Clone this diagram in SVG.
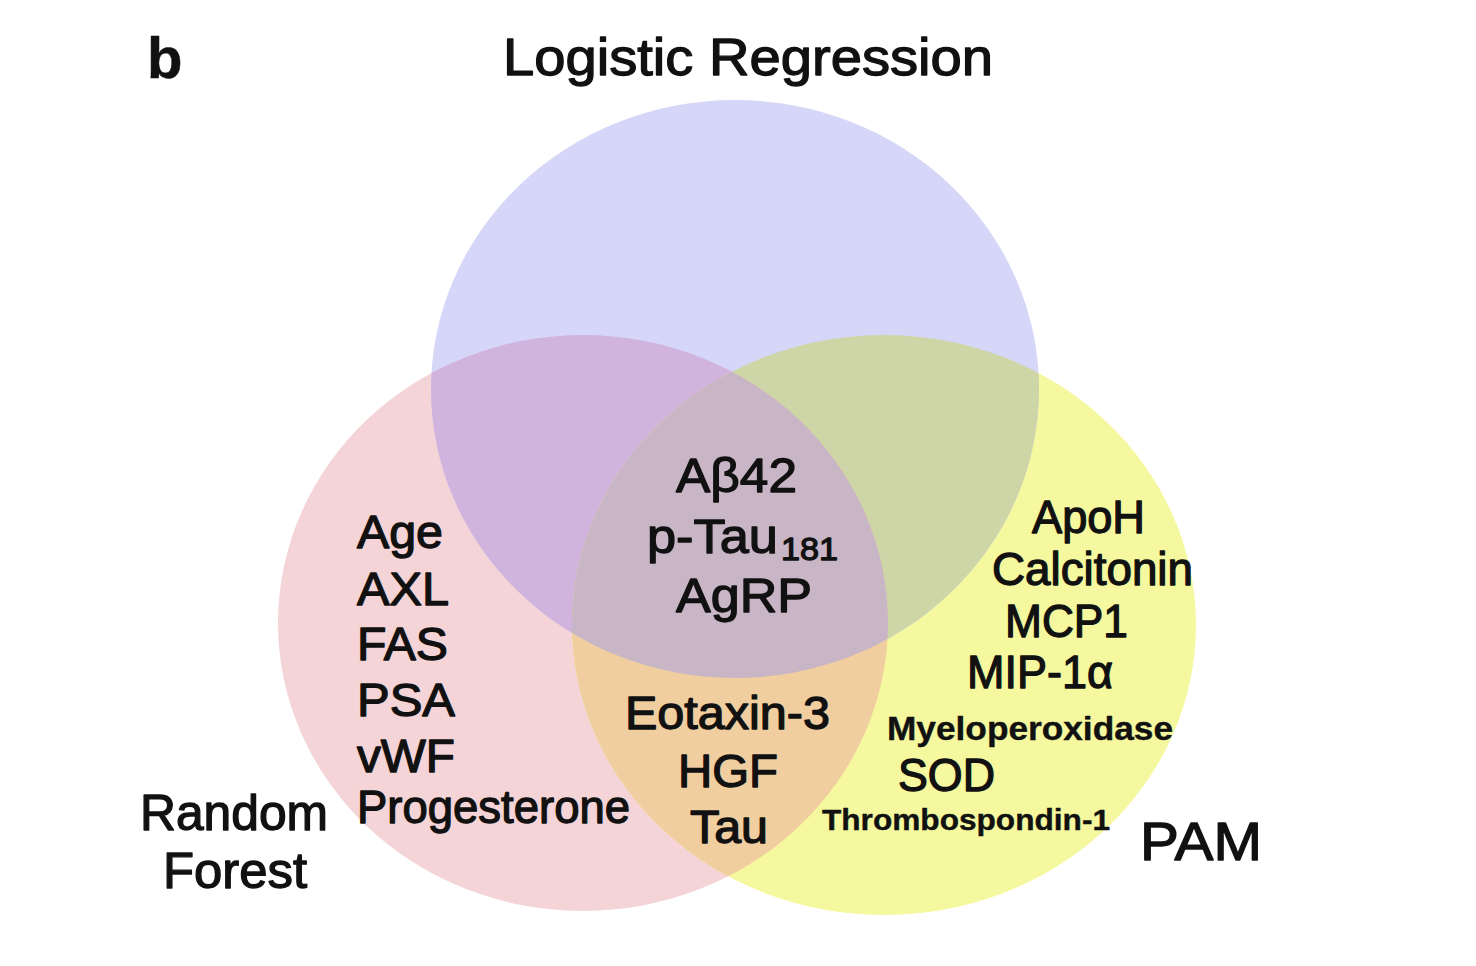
<svg xmlns="http://www.w3.org/2000/svg" width="1476" height="966" viewBox="0 0 1476 966">
<defs>
<clipPath id="cBlue"><ellipse cx="735" cy="389" rx="304" ry="289"/></clipPath>
<clipPath id="cPink"><ellipse cx="583" cy="623" rx="305" ry="288"/></clipPath>
<style>
text{font-family:"Liberation Sans",Arial,sans-serif;fill:#111;stroke:#111;stroke-width:1.3;stroke-linejoin:round}
.m{font-size:46px}
.s{font-size:34px;font-weight:bold;stroke-width:0.4}
.t{font-size:52px}
</style>
</defs>
<rect width="1476" height="966" fill="#ffffff"/>
<g id="sets">
<g id="random-forest"><ellipse cx="583" cy="623" rx="305" ry="288" fill="#f4d4d6"/></g>
<g id="pam"><ellipse cx="884" cy="625" rx="312" ry="290" fill="#f5f89e"/></g>
<g id="logistic-regression"><ellipse cx="735" cy="389" rx="304" ry="289" fill="#d6d6f8"/></g>
<g id="lr-rf"><ellipse cx="583" cy="623" rx="305" ry="288" fill="#d0b4de" clip-path="url(#cBlue)"/></g>
<g id="lr-pam"><ellipse cx="884" cy="625" rx="312" ry="290" fill="#ced6a8" clip-path="url(#cBlue)"/></g>
<g id="rf-pam"><ellipse cx="884" cy="625" rx="312" ry="290" fill="#f0cea0" clip-path="url(#cPink)"/></g>
<g id="all-three" clip-path="url(#cBlue)"><ellipse cx="884" cy="625" rx="312" ry="290" fill="#c8b5c5" clip-path="url(#cPink)"/></g>
</g>
<g id="connectors"></g>
<g id="labels">
<text x="147" y="78" style="font-size:58px;font-weight:bold;stroke-width:0.5">b</text>
<text x="503" y="75" class="t" textLength="490" lengthAdjust="spacingAndGlyphs">Logistic Regression</text>
<text x="140" y="830" class="t" style="font-size:50px" textLength="188" lengthAdjust="spacingAndGlyphs">Random</text>
<text x="163" y="888" class="t" style="font-size:50px" textLength="144" lengthAdjust="spacingAndGlyphs">Forest</text>
<text x="1140" y="860" class="t" style="font-size:54px" textLength="122" lengthAdjust="spacingAndGlyphs">PAM</text>
</g>
<g id="rf-only">
<text x="357" y="548" class="m" textLength="86" lengthAdjust="spacingAndGlyphs">Age</text>
<text x="357" y="605" class="m" textLength="92" lengthAdjust="spacingAndGlyphs">AXL</text>
<text x="357" y="660" class="m" textLength="91" lengthAdjust="spacingAndGlyphs">FAS</text>
<text x="357" y="716" class="m" textLength="98" lengthAdjust="spacingAndGlyphs">PSA</text>
<text x="357" y="772" class="m" textLength="98" lengthAdjust="spacingAndGlyphs">vWF</text>
<text x="357" y="823" class="m" textLength="273" lengthAdjust="spacingAndGlyphs">Progesterone</text>
</g>
<g id="center-items">
<text x="676" y="492" class="m" style="font-size:48px" textLength="121" lengthAdjust="spacingAndGlyphs">Aβ42</text>
<text x="647" y="553" class="m" style="font-size:48px" textLength="131" lengthAdjust="spacingAndGlyphs">p-Tau</text>
<text x="781" y="560" class="m" style="font-size:32px" textLength="57" lengthAdjust="spacingAndGlyphs">181</text>
<text x="676" y="612" class="m" style="font-size:48px" textLength="136" lengthAdjust="spacingAndGlyphs">AgRP</text>
</g>
<g id="rf-pam-items">
<text x="625" y="729" class="m" textLength="205" lengthAdjust="spacingAndGlyphs">Eotaxin-3</text>
<text x="678" y="787" class="m" textLength="100" lengthAdjust="spacingAndGlyphs">HGF</text>
<text x="690" y="843" class="m" textLength="78" lengthAdjust="spacingAndGlyphs">Tau</text>
</g>
<g id="pam-only">
<text x="1032" y="533" class="m" textLength="113" lengthAdjust="spacingAndGlyphs">ApoH</text>
<text x="992" y="585" class="m" textLength="201" lengthAdjust="spacingAndGlyphs">Calcitonin</text>
<text x="1005" y="637" class="m" textLength="123" lengthAdjust="spacingAndGlyphs">MCP1</text>
<text x="967" y="688" class="m" textLength="146" lengthAdjust="spacingAndGlyphs">MIP-1α</text>
<text x="887" y="740" class="s" textLength="286" lengthAdjust="spacingAndGlyphs">Myeloperoxidase</text>
<text x="898" y="791" class="m" textLength="97" lengthAdjust="spacingAndGlyphs">SOD</text>
<text x="822" y="830" class="s" style="font-size:30px" textLength="288" lengthAdjust="spacingAndGlyphs">Thrombospondin-1</text>
</g>
</svg>
